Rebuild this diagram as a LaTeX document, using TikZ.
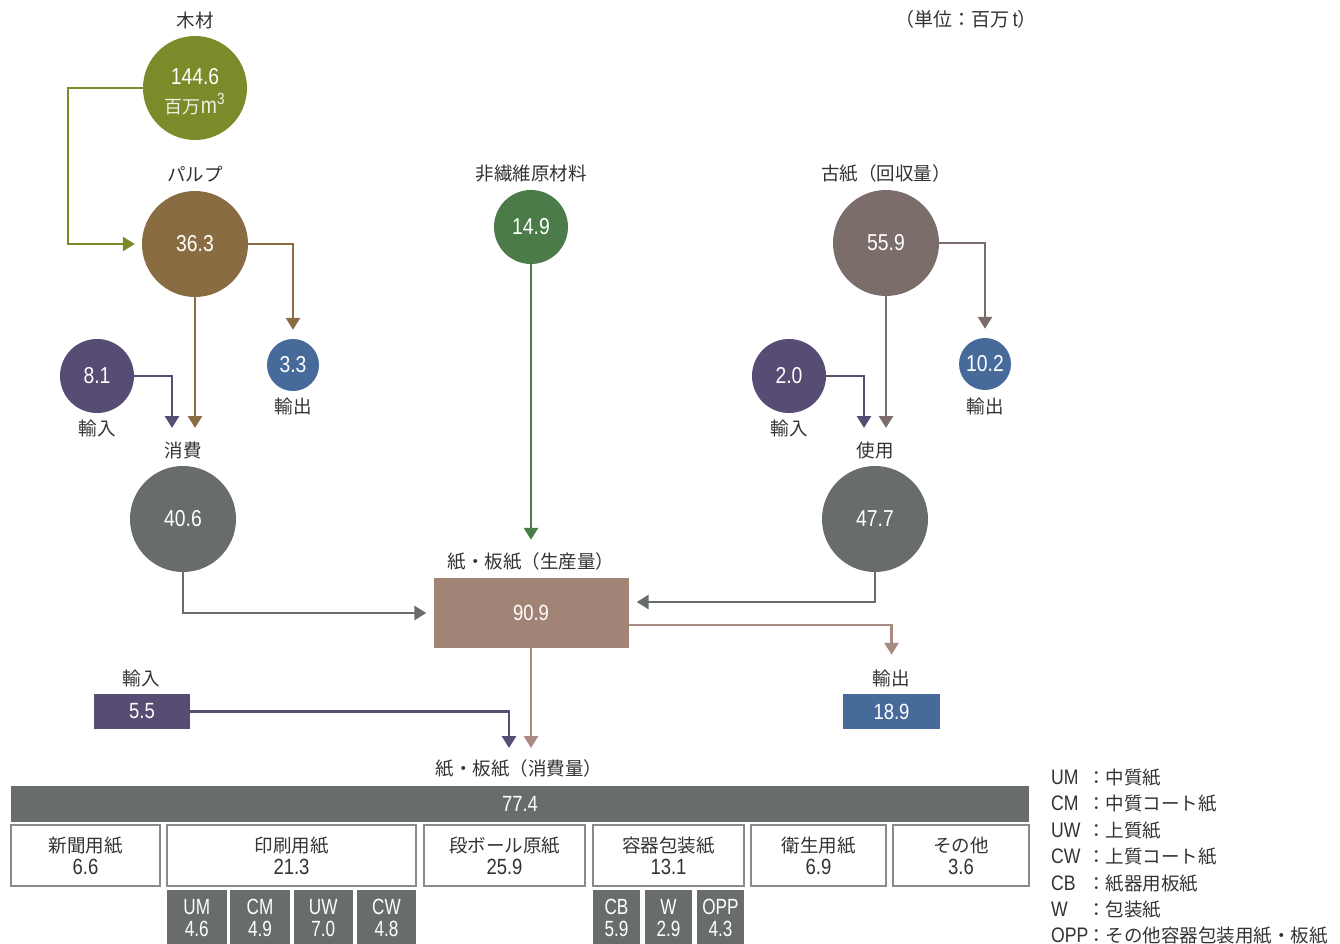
\documentclass[tikz,border=0pt]{standalone}
\usepackage{fontspec}
\setmainfont{Noto Sans CJK JP}
\newfontfamily\cjk{Noto Sans CJK JP}
\newfontfamily\nf[FakeStretch=0.84]{Liberation Sans}
\newfontfamily\nfn[FakeStretch=0.78]{Liberation Sans}
\usetikzlibrary{arrows.meta}
\definecolor{olivec}{HTML}{7A8C2A}
\definecolor{pulpc}{HTML}{8A6C42}
\definecolor{purpc}{HTML}{574C73}
\definecolor{bluec}{HTML}{466A99}
\definecolor{grayc}{HTML}{686D6B}
\definecolor{greenc}{HTML}{4B7B49}
\definecolor{kosic}{HTML}{7B6D6A}
\definecolor{prodc}{HTML}{A28477}
\definecolor{prodarr}{HTML}{A88B80}
\definecolor{bordc}{HTML}{8A8A8A}
\definecolor{labc}{HTML}{333333}
\begin{document}
\begin{tikzpicture}[x=1pt,y=-1pt,
  circ/.style={circle,inner sep=0pt,text=white,font=\nf\fontsize{23}{26}\selectfont},
  lab/.style={text=labc,inner sep=0pt,font=\fontsize{18.5}{21}\selectfont},
  arr/.style={line width=2.8pt,-{Triangle[width=14pt,length=12pt]}},
  numbox/.style={inner sep=0pt,text=white,font=\nf\fontsize{22}{24}\selectfont},
  catbox/.style={draw=bordc,line width=1.3pt,fill=white,inner sep=0pt,minimum height=61pt,align=center,text=labc,font=\fontsize{18.5}{22}\selectfont},
  subbox/.style={fill=grayc,inner sep=0pt,minimum height=56pt,align=center,text=white,font=\nfn\fontsize{22}{22}\selectfont},
  leg/.style={anchor=west,inner sep=0pt,text=labc,font=\fontsize{18.5}{20}\selectfont}]
\useasboundingbox (0,0) rectangle (1340,944);
\fill[white] (0,0) rectangle (1340,944);

% unit
\node[lab,font=\fontsize{19}{21}\selectfont] (unit) at (966,19) {（単位：百万{\nf\fontsize{21}{21}\selectfont\,t}）};

% wood
\node[lab] (woodl) at (195,20) {木材};
\node[circ,fill=olivec,minimum size=104pt] (wood) at (195,88) {};
\node[circ] (woodn) at (195,77) {144.6};
\node[circ,text=white!88!olivec] (woodu) at (195,104) {{\cjk\fontsize{18}{20}\selectfont 百万}m\textsuperscript{3}};

% pulp
\node[lab] (pulpl) at (195,174) {パルプ};
\node[circ,fill=pulpc,minimum size=106pt] (pulp) at (195,244) {36.3};
\node[circ,fill=bluec,minimum size=52pt] (exp1) at (293,365) {3.3};
\node[lab] (exp1l) at (293,406) {輸出};
\node[circ,fill=purpc,minimum size=74pt] (imp1) at (97,376) {8.1};
\node[lab] (imp1l) at (97,428) {輸入};
\coordinate (pin1) at (195,428);
\coordinate (pin2) at (172,428);

% consumption
\node[lab] (consl) at (183,450) {消費};
\node[circ,fill=grayc,minimum size=106pt] (cons) at (183,519) {40.6};

% non-fiber
\node[lab] (nfl) at (531,174) {非繊維原材料};
\node[circ,fill=greenc,minimum size=74pt] (nonf) at (531,227) {14.9};

% production
\node[lab] (prodl) at (531,562) {紙・板紙（生産量）};
\node[numbox,fill=prodc,minimum width=195pt,minimum height=70pt] (prod) at (531,613) {90.9};

% waste paper
\node[lab] (kosil) at (886,174) {古紙（回収量）};
\node[circ,fill=kosic,minimum size=106pt] (kosi) at (886,243) {55.9};
\node[circ,fill=bluec,minimum size=52pt] (exp2) at (985,364) {10.2};
\node[lab] (exp2l) at (985,406) {輸出};
\node[circ,fill=purpc,minimum size=74pt] (imp2) at (789,376) {2.0};
\node[lab] (imp2l) at (789,428) {輸入};
\coordinate (uin1) at (886,428);
\coordinate (uin2) at (864,428);
\node[lab] (usel) at (875,450) {使用};
\node[circ,fill=grayc,minimum size=106pt] (use) at (875,519) {47.7};

% export / import of paper
\node[lab] (exp3l) at (891,678) {輸出};
\node[numbox,fill=bluec,minimum width=97pt,minimum height=35pt] (exp3) at (891.5,711.5) {18.9};
\node[lab] (imp3l) at (141,678) {輸入};
\node[numbox,fill=purpc,minimum width=96pt,minimum height=35pt] (imp3) at (142,711.5) {5.5};
\coordinate (cin1) at (531,748);
\coordinate (cin2) at (509,748);

% consumption bar
\node[lab] (totl) at (519,769) {紙・板紙（消費量）};
\node[numbox,fill=grayc,minimum width=1018pt,minimum height=36pt] (tot) at (520,804) {77.4};

% categories
\newcommand{\cnum}[1]{{\nf\fontsize{22}{22}\selectfont #1}}
\node[catbox,minimum width=149pt] (c1) at (85.5,855.5) {新聞用紙\\\cnum{6.6}};
\node[catbox,minimum width=249pt] (c2) at (291.5,855.5) {印刷用紙\\\cnum{21.3}};
\node[catbox,minimum width=161pt] (c3) at (504.5,855.5) {段ボール原紙\\\cnum{25.9}};
\node[catbox,minimum width=151pt] (c4) at (668.5,855.5) {容器包装紙\\\cnum{13.1}};
\node[catbox,minimum width=135pt] (c5) at (818.5,855.5) {衛生用紙\\\cnum{6.9}};
\node[catbox,minimum width=136pt] (c6) at (961,855.5) {その他\\\cnum{3.6}};

% sub boxes
\node[subbox,minimum width=59.5pt] (s1) at (196.75,918) {UM\\4.6};
\node[subbox,minimum width=59.5pt] (s2) at (260,918) {CM\\4.9};
\node[subbox,minimum width=59.5pt] (s3) at (323.25,918) {UW\\7.0};
\node[subbox,minimum width=59.5pt] (s4) at (386.5,918) {CW\\4.8};
\node[subbox,minimum width=47pt] (s5) at (616.5,918) {CB\\5.9};
\node[subbox,minimum width=47pt] (s6) at (668.5,918) {W\\2.9};
\node[subbox,minimum width=47pt] (s7) at (720.5,918) {OPP\\4.3};

% legend
\newcommand{\lab}[1]{\makebox[36pt][l]{\nf\fontsize{21}{21}\selectfont #1}}
\node[leg] (l1) at (1051,778) {\lab{UM}：中質紙};
\node[leg] (l2) at (1051,804) {\lab{CM}：中質コート紙};
\node[leg] (l3) at (1051,830.5) {\lab{UW}：上質紙};
\node[leg] (l4) at (1051,857) {\lab{CW}：上質コート紙};
\node[leg] (l5) at (1051,884) {\lab{CB}：紙器用板紙};
\node[leg] (l6) at (1051,910) {\lab{W}：包装紙};
\node[leg] (l7) at (1051,936) {\lab{OPP}：その他容器包装用紙・板紙};

% connectors
\draw[arr,olivec] (wood.west) -- (68,88) -- (68,244) -- ([xshift=-7pt]pulp.west);
\draw[arr,pulpc] (pulp.east) -| ([yshift=9pt]exp1.north);
\draw[arr,pulpc] (pulp.south) -- (pin1);
\draw[arr,purpc] (imp1.east) -| (pin2);
\draw[arr,grayc] (cons.south) |- ([xshift=-7pt]prod.west);
\draw[arr,greenc] (nonf.south) -- ([yshift=38pt]prod.north);
\draw[arr,kosic] (kosi.east) -| ([yshift=9pt]exp2.north);
\draw[arr,kosic] (kosi.south) -- (uin1);
\draw[arr,purpc] (imp2.east) -| (uin2);
\draw[arr,grayc] (use.south) |- ([xshift=8pt,yshift=11pt]prod.east);
\draw[arr,prodarr] ([yshift=-12pt]prod.east) -| ([yshift=39pt]exp3.north);
\draw[arr,prodarr] (prod.south) -- (cin1);
\draw[arr,purpc] (imp3.east) -| (cin2);
\end{tikzpicture}
\end{document}
